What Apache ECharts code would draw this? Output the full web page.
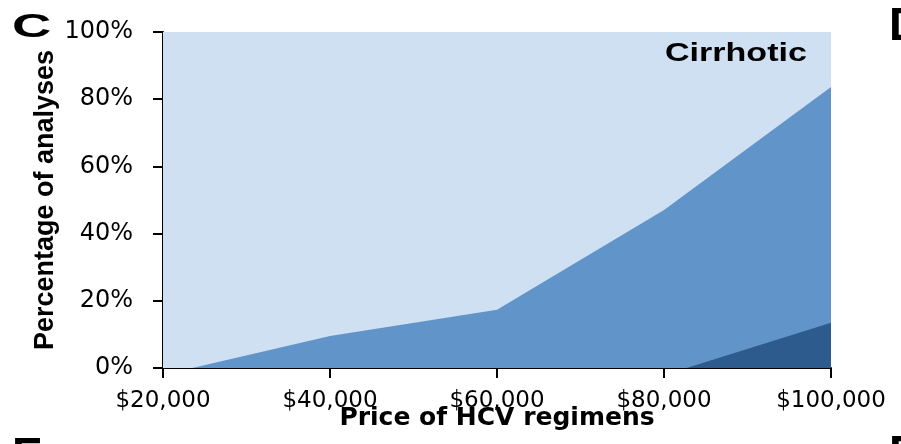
<!DOCTYPE html>
<html>
<head>
<meta charset="utf-8">
<title>Cirrhotic - Price of HCV regimens</title>
<script src="https://cdn.jsdelivr.net/npm/echarts@6/dist/echarts.min.js"></script>
<style>
  html, body {
    margin: 0;
    padding: 0;
    background: #ffffff;
  }
  #chart {
    width: 901px;
    height: 444px;
  }
</style>
</head>
<body>
<div id="chart"></div>
<script>
// 价格刻度（x 轴）
const priceTicks = [20000, 40000, 60000, 80000, 100000]
// 百分比刻度（y 轴）
const pctTicks = [0, 20, 40, 60, 80, 100]

// 最上层（浅色）：剩余部分，到 100%
const topPrice = [20000, 100000]
const topPct = [100, 100]

// 中间层（中蓝）：累计边界
const midPrice = [20000, 23500, 40000, 60000, 80000, 100000]
const midPct = [0, 0, 9.5, 17.3, 47, 83.6]

// 最下层（深蓝）
const lowPrice = [20000, 82700, 100000]
const lowPct = [0, 0, 13.5]

const colors = {
  top: '#cfe0f2',
  mid: '#6195c9',
  low: '#2d5b8d'
}

function pairs(xs, ys) {
  return xs.map((x, i) => [x, ys[i]])
}

function areaSeries(name, xs, ys, color, z) {
  return {
    name: name,
    type: 'line',
    data: pairs(xs, ys),
    showSymbol: false,
    silent: true,
    z: z,
    lineStyle: { width: 0 },
    itemStyle: { color: color },
    areaStyle: { color: color, opacity: 1 }
  }
}

const chart = echarts.init(document.getElementById('chart'))

const option = {
  animation: false,
  grid: {
    left: 163,
    right: 70,
    top: 32,
    bottom: 76,
    containLabel: false,
    outerBoundsMode: 'none'
  },
  xAxis: {
    type: 'value',
    min: priceTicks[0],
    max: priceTicks[priceTicks.length - 1],
    interval: priceTicks[1] - priceTicks[0],
    name: 'Price of HCV regimens',
    nameLocation: 'middle',
    nameMoveOverlap: false,
    nameGap: 38,
    nameTextStyle: {
      fontFamily: 'DejaVu Sans',
      fontWeight: 'bold',
      fontSize: 25,
      color: '#000'
    },
    axisLine: {
      onZero: false,
      lineStyle: { color: '#000', width: 2 }
    },
    axisTick: {
      show: true,
      length: 10,
      lineStyle: { color: '#000', width: 2 }
    },
    axisLabel: {
      margin: 22,
      fontFamily: 'DejaVu Sans',
      fontSize: 23,
      color: '#000',
      formatter: (v) => '$' + v.toLocaleString('en-US')
    },
    splitLine: { show: false }
  },
  yAxis: {
    type: 'value',
    min: pctTicks[0],
    max: pctTicks[pctTicks.length - 1],
    interval: pctTicks[1] - pctTicks[0],
    name: 'Percentage of analyses',
    nameLocation: 'middle',
    nameMoveOverlap: false,
    nameGap: 104,
    nameTextStyle: {
      fontFamily: 'Liberation Sans',
      fontWeight: 'bold',
      fontSize: 27,
      color: '#000'
    },
    axisLine: {
      show: true,
      lineStyle: { color: '#000', width: 2 }
    },
    axisTick: {
      show: true,
      length: 10,
      lineStyle: { color: '#000', width: 2 }
    },
    axisLabel: {
      margin: 30,
      fontFamily: 'DejaVu Sans',
      fontSize: 24,
      color: '#000',
      formatter: '{value}%'
    },
    splitLine: { show: false }
  },
  series: [
    areaSeries('remainder', topPrice, topPct, colors.top, 1),
    areaSeries('middle', midPrice, midPct, colors.mid, 2),
    areaSeries('lower', lowPrice, lowPct, colors.low, 3)
  ],
  graphic: [
    {
      type: 'text',
      x: 12,
      y: 11,
      scaleX: 1.65,
      style: {
        text: 'C',
        fontFamily: 'Liberation Sans',
        fontWeight: 'bold',
        fontSize: 33,
        fill: '#000'
      }
    },
    {
      type: 'text',
      x: 665,
      y: 41,
      scaleX: 1.31,
      z: 10,
      style: {
        text: 'Cirrhotic',
        fontFamily: 'Liberation Sans',
        fontWeight: 'bold',
        fontSize: 26,
        fill: '#000'
      }
    },
    {
      type: 'text',
      x: 889,
      y: 4,
      style: {
        text: 'D',
        fontFamily: 'Liberation Sans',
        fontWeight: 'bold',
        fontSize: 46,
        fill: '#000'
      }
    },
    {
      type: 'text',
      x: 12,
      y: 434,
      style: {
        text: 'E',
        fontFamily: 'Liberation Sans',
        fontWeight: 'bold',
        fontSize: 46,
        fill: '#000'
      }
    },
    {
      type: 'text',
      x: 889,
      y: 432,
      style: {
        text: 'F',
        fontFamily: 'Liberation Sans',
        fontWeight: 'bold',
        fontSize: 46,
        fill: '#000'
      }
    }
  ]
}

chart.setOption(option)

window.addEventListener('resize', () => {
  chart.resize()
})
</script>
</body>
</html>
